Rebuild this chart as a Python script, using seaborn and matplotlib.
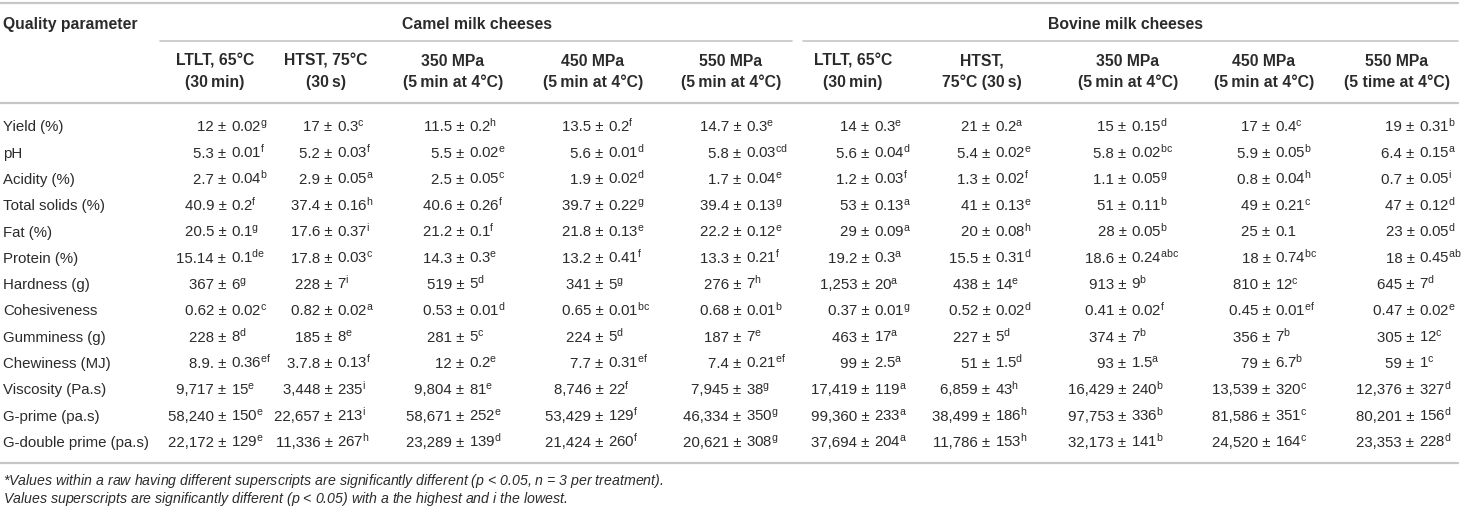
import matplotlib
matplotlib.use("Agg")
import matplotlib.pyplot as plt
import seaborn as sns

sns.set_style("white")
plt.rcParams['font.family'] = ['Liberation Sans', 'DejaVu Sans']
plt.rcParams['mathtext.fontset'] = 'custom'
plt.rcParams['mathtext.rm'] = 'Liberation Sans'
plt.rcParams['mathtext.it'] = 'Liberation Sans:italic'
plt.rcParams['mathtext.bf'] = 'Liberation Sans:bold'

## table content
parameters = ["Yield (%)", "pH", "Acidity (%)", "Total solids (%)", "Fat (%)", "Protein (%)",
              "Hardness (g)", "Cohesiveness", "Gumminess (g)", "Chewiness (MJ)",
              "Viscosity (Pa.s)", "G-prime (pa.s)", "G-double prime (pa.s)"]

groups = ["Camel milk cheeses", "Bovine milk cheeses"]

treatments = [("LTLT, 65°C", "(30\u2009min)"), ("HTST, 75°C", "(30\u2009s)"),
              ("350 MPa", "(5\u2009min at 4°C)"), ("450 MPa", "(5\u2009min at 4°C)"), ("550 MPa", "(5\u2009min at 4°C)"),
              ("LTLT, 65°C", "(30\u2009min)"), ("HTST,", "75°C (30\u2009s)"),
              ("350 MPa", "(5\u2009min at 4°C)"), ("450 MPa", "(5\u2009min at 4°C)"), ("550 MPa", "(5 time at 4°C)")]

## each cell: (mean, sd, superscript letters)
camel_ltlt = [("12", "0.02", "g"), ("5.3", "0.01", "f"), ("2.7", "0.04", "b"), ("40.9", "0.2", "f"),
              ("20.5", "0.1", "g"), ("15.14", "0.1", "de"), ("367", "6", "g"), ("0.62", "0.02", "c"),
              ("228", "8", "d"), ("8.9.", "0.36", "ef"), ("9,717", "15", "e"), ("58,240", "150", "e"),
              ("22,172", "129", "e")]
camel_htst = [("17", "0.3", "c"), ("5.2", "0.03", "f"), ("2.9", "0.05", "a"), ("37.4", "0.16", "h"),
              ("17.6", "0.37", "i"), ("17.8", "0.03", "c"), ("228", "7", "i"), ("0.82", "0.02", "a"),
              ("185", "8", "e"), ("3.7.8", "0.13", "f"), ("3,448", "235", "i"), ("22,657", "213", "i"),
              ("11,336", "267", "h")]
camel_350 = [("11.5", "0.2", "h"), ("5.5", "0.02", "e"), ("2.5", "0.05", "c"), ("40.6", "0.26", "f"),
             ("21.2", "0.1", "f"), ("14.3", "0.3", "e"), ("519", "5", "d"), ("0.53", "0.01", "d"),
             ("281", "5", "c"), ("12", "0.2", "e"), ("9,804", "81", "e"), ("58,671", "252", "e"),
             ("23,289", "139", "d")]
camel_450 = [("13.5", "0.2", "f"), ("5.6", "0.01", "d"), ("1.9", "0.02", "d"), ("39.7", "0.22", "g"),
             ("21.8", "0.13", "e"), ("13.2", "0.41", "f"), ("341", "5", "g"), ("0.65", "0.01", "bc"),
             ("224", "5", "d"), ("7.7", "0.31", "ef"), ("8,746", "22", "f"), ("53,429", "129", "f"),
             ("21,424", "260", "f")]
camel_550 = [("14.7", "0.3", "e"), ("5.8", "0.03", "cd"), ("1.7", "0.04", "e"), ("39.4", "0.13", "g"),
             ("22.2", "0.12", "e"), ("13.3", "0.21", "f"), ("276", "7", "h"), ("0.68", "0.01", "b"),
             ("187", "7", "e"), ("7.4", "0.21", "ef"), ("7,945", "38", "g"), ("46,334", "350", "g"),
             ("20,621", "308", "g")]
bovine_ltlt = [("14", "0.3", "e"), ("5.6", "0.04", "d"), ("1.2", "0.03", "f"), ("53", "0.13", "a"),
               ("29", "0.09", "a"), ("19.2", "0.3", "a"), ("1,253", "20", "a"), ("0.37", "0.01", "g"),
               ("463", "17", "a"), ("99", "2.5", "a"), ("17,419", "119", "a"), ("99,360", "233", "a"),
               ("37,694", "204", "a")]
bovine_htst = [("21", "0.2", "a"), ("5.4", "0.02", "e"), ("1.3", "0.02", "f"), ("41", "0.13", "e"),
               ("20", "0.08", "h"), ("15.5", "0.31", "d"), ("438", "14", "e"), ("0.52", "0.02", "d"),
               ("227", "5", "d"), ("51", "1.5", "d"), ("6,859", "43", "h"), ("38,499", "186", "h"),
               ("11,786", "153", "h")]
bovine_350 = [("15", "0.15", "d"), ("5.8", "0.02", "bc"), ("1.1", "0.05", "g"), ("51", "0.11", "b"),
              ("28", "0.05", "b"), ("18.6", "0.24", "abc"), ("913", "9", "b"), ("0.41", "0.02", "f"),
              ("374", "7", "b"), ("93", "1.5", "a"), ("16,429", "240", "b"), ("97,753", "336", "b"),
              ("32,173", "141", "b")]
bovine_450 = [("17", "0.4", "c"), ("5.9", "0.05", "b"), ("0.8", "0.04", "h"), ("49", "0.21", "c"),
              ("25", "0.1", ""), ("18", "0.74", "bc"), ("810", "12", "c"), ("0.45", "0.01", "ef"),
              ("356", "7", "b"), ("79", "6.7", "b"), ("13,539", "320", "c"), ("81,586", "351", "c"),
              ("24,520", "164", "c")]
bovine_550 = [("19", "0.31", "b"), ("6.4", "0.15", "a"), ("0.7", "0.05", "i"), ("47", "0.12", "d"),
              ("23", "0.05", "d"), ("18", "0.45", "ab"), ("645", "7", "d"), ("0.47", "0.02", "e"),
              ("305", "12", "c"), ("59", "1", "c"), ("12,376", "327", "d"), ("80,201", "156", "d"),
              ("23,353", "228", "d")]

columns = [camel_ltlt, camel_htst, camel_350, camel_450, camel_550,
           bovine_ltlt, bovine_htst, bovine_350, bovine_450, bovine_550]

footnotes = ["*Values within a raw having different superscripts are significantly different ($p$ < 0.05, $n$ = 3 per treatment).",
             "Values superscripts are significantly different ($p$ < 0.05) with a the highest and i the lowest."]

## layout (pixel coordinates of the 1461x512 canvas)
W, H = 1461, 512
head_x = [215, 326, 453, 593, 731, 853, 982, 1128, 1264, 1397]   # header centres
group_x = [477, 1126]
pm_x = [222, 328, 460, 599, 737, 865, 986, 1122, 1266, 1410]     # position of the "±"
row_y0, row_step = 126, 26.3
text_col = "#2b2b2b"
rule_col = "#c6c6c6"
fs = 10.8       # body
fs_head = 11.3  # bold headers
fs_note = 10.2  # footnotes
base = 5.3      # centre -> baseline offset (px)

fig = plt.figure(figsize=(W / 100, H / 100), dpi=100)
ax = fig.add_axes([0, 0, 1, 1])
ax.set_xlim(0, W)
ax.set_ylim(H, 0)
ax.axis("off")

## rules
ax.plot([0, 1458], [3, 3], color=rule_col, lw=1.6)
ax.plot([160, 792], [41, 41], color=rule_col, lw=1.2)
ax.plot([803, 1458], [41, 41], color=rule_col, lw=1.2)
ax.plot([0, 1458], [103, 103], color=rule_col, lw=1.6)
ax.plot([0, 1458], [463, 463], color=rule_col, lw=1.6)

## header
ax.text(3, 23 + 5.6, "Quality parameter", ha="left", va="baseline", fontsize=fs_head,
        fontweight="bold", color=text_col)
for g, x in zip(groups, group_x):
    ax.text(x, 23 + 5.6, g, ha="center", va="baseline", fontsize=fs_head, fontweight="bold", color=text_col)
for (l1, l2), x in zip(treatments, head_x):
    ax.text(x, 60 + 5.6, l1, ha="center", va="baseline", fontsize=fs_head, fontweight="bold", color=text_col)
    ax.text(x, 81 + 5.6, l2, ha="center", va="baseline", fontsize=fs_head, fontweight="bold", color=text_col)

## body
for i, p in enumerate(parameters):
    y = row_y0 + i * row_step + base
    ax.text(3, y, p, ha="left", va="baseline", fontsize=fs, color=text_col)
    for col, x in zip(columns, pm_x):
        mean, sd, sup = col[i]
        ax.text(x + 4.5, y, mean + " ±", ha="right", va="baseline", fontsize=fs, color=text_col)
        right = sd + (r"$^{\mathrm{%s}}$" % sup if sup else "")
        ax.text(x + 9, y, right, ha="left", va="baseline", fontsize=fs, color=text_col)

## footnotes
ax.text(3, 480 + 4.5, footnotes[0], ha="left", va="baseline", fontsize=fs_note, style="italic", color=text_col)
ax.text(3, 498 + 4.5, footnotes[1], ha="left", va="baseline", fontsize=fs_note, style="italic", color=text_col)

fig.savefig("out.png", dpi=100)
